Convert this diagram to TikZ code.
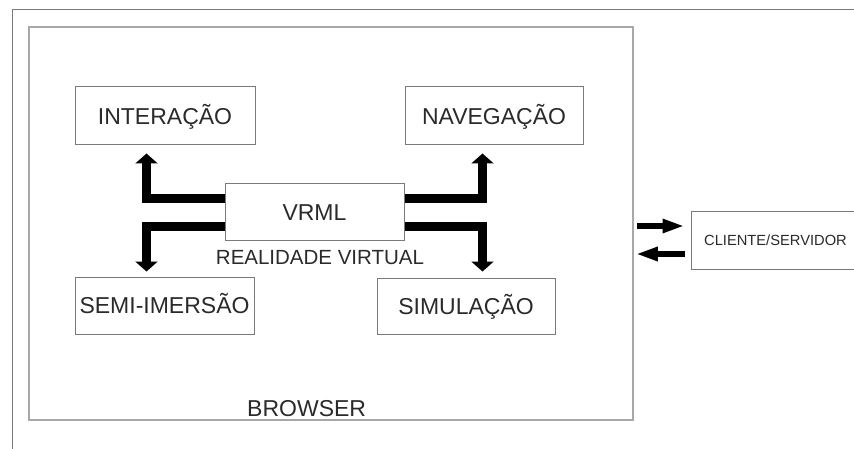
\documentclass[tikz,border=0pt]{standalone}
\usepackage{fontspec}
\setmainfont{Liberation Sans}
\usetikzlibrary{arrows.meta,calc}
\definecolor{ink}{HTML}{2A2A2A}
\definecolor{edge}{HTML}{7A7A7A}
\definecolor{pane}{HTML}{A8A8A8}
\tikzset{
  txt/.style={inner sep=0pt, text=ink, font=\fontsize{23}{23}\selectfont,
    text height=16.5pt, text depth=0pt},
  box/.style={txt, draw=edge, line width=1pt},
  smalltxt/.style={inner sep=0pt, text=ink, font=\fontsize{14.7}{14.7}\selectfont,
    text height=10.5pt, text depth=0pt},
  bigarrow/.style={line width=9pt, line join=miter, draw=black,
    -{Triangle[width=22pt,length=10pt]}},
  medarrow/.style={line width=5.5pt, draw=black,
    -{Triangle[width=13pt,length=22pt]}},
}
\begin{document}
\begin{tikzpicture}[x=1pt,y=-1pt]
\useasboundingbox (0,0) rectangle (854,449);

% outer frame (top and left edges)
\draw[edge, line width=1.5pt] (854,9.5) -- (12.5,9.5) -- (12.5,449);

% browser pane
\node[draw=pane, line width=1.5pt, inner sep=0pt,
      minimum width=604pt, minimum height=393pt] (browser) at (331,223.5) {};
\node[txt, anchor=base west] (brlabel) at (247,416) {BROWSER};

% feature boxes
\node[box, minimum width=180pt, minimum height=58pt] (inter) at (165,116) {INTERAÇÃO};
\node[box, minimum width=178pt, minimum height=58pt] (nav)   at (494,116) {NAVEGAÇÃO};
\node[box, minimum width=179pt, minimum height=57pt] (vrml)  at (314.5,212.5) {VRML};
\node[txt, font=\fontsize{20.5}{20.5}\selectfont, text height=14.7pt] (rv) at (320,257.5) {REALIDADE VIRTUAL};
\node[box, minimum width=179pt, minimum height=57pt] (semi)  at (164.5,305.5) {SEMI-IMERSÃO};
\node[box, minimum width=178pt, minimum height=56pt] (sim)   at (466,306) {SIMULAÇÃO};

% client/server box (runs off the right edge)
\node[smalltxt, draw=edge, line width=1pt, minimum width=169pt, minimum height=57pt]
  (client) at (775.5,240.5) {CLIENTE/SERVIDOR};

% thick connectors from VRML
\draw[bigarrow] ([yshift=14pt]vrml.west)   -| ($(inter.south west)+(72,8)$);
\draw[bigarrow] ([yshift=-14.5pt]vrml.west) -| ($(semi.north west)+(72,-5)$);
\draw[bigarrow] ([yshift=14pt]vrml.east)   -| ($(nav.south west)+(78,8)$);
\draw[bigarrow] ([yshift=-14.5pt]vrml.east) -| ($(sim.north west)+(106,-6)$);

% browser <-> client/server
\draw[medarrow] ($(browser.east |- client.west)+(3,-14.5)$) -- ($(client.west)+(-6,-14.5)$);
\draw[medarrow] ($(client.west)+(-6,13.5)$) -- ($(browser.east |- client.west)+(2,13.5)$);
\end{tikzpicture}
\end{document}
